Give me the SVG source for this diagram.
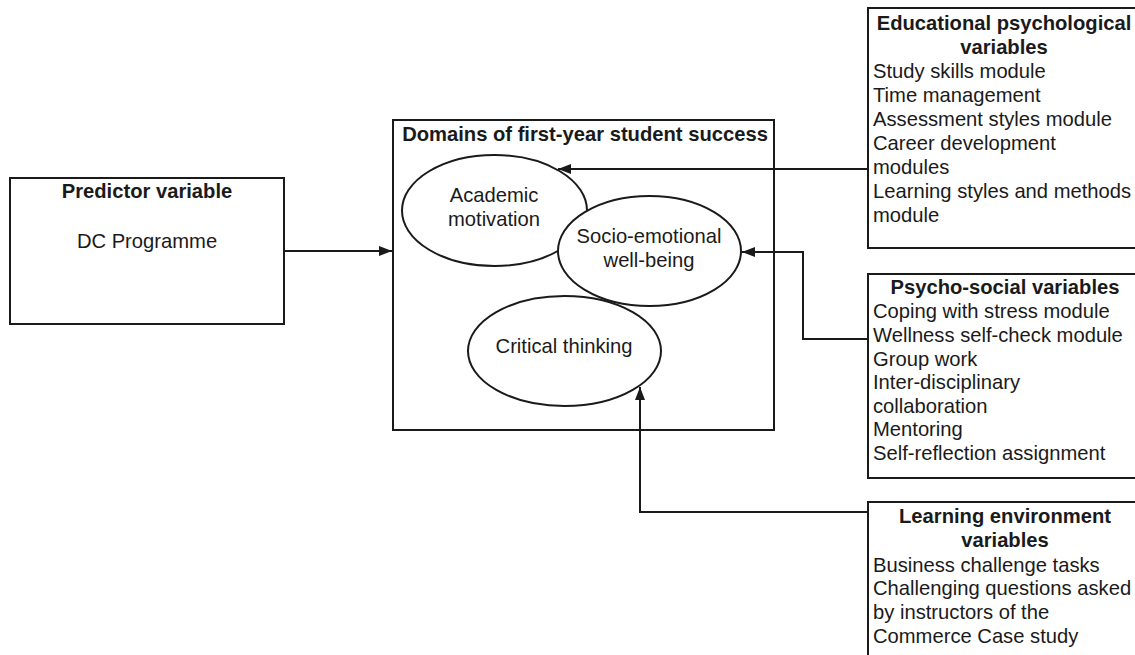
<svg xmlns="http://www.w3.org/2000/svg" width="1135" height="655" viewBox="0 0 1135 655">
  <style>
    .box { fill: #ffffff; stroke: #1a1a1a; stroke-width: 2; }
    .oval { fill: #ffffff; stroke: #1a1a1a; stroke-width: 2; }
    .link { fill: none; stroke: #1a1a1a; stroke-width: 2; }
    text { font-family: "Liberation Sans", Arial, sans-serif; font-size: 20.2px; fill: #1a1a1a; }
    .title { font-weight: bold; text-anchor: middle; }
    .mid { text-anchor: middle; }
  </style>
  <defs>
    <marker id="arrow" markerUnits="userSpaceOnUse" markerWidth="14" markerHeight="12" refX="13" refY="5" orient="auto">
      <path d="M0,0 L13,5 L0,10 z" fill="#1a1a1a"/>
    </marker>
  </defs>
  <rect width="1135" height="655" fill="#ffffff"/>

  <!-- predictor -->
  <g id="predictor">
    <rect class="box" x="10" y="178" width="274" height="146"/>
    <text class="title" x="147" y="198">Predictor variable</text>
    <text class="mid" x="147" y="248">DC Programme</text>
  </g>

  <!-- outcome domains container -->
  <g id="domains">
    <rect class="box" x="393" y="120" width="381" height="310"/>
    <text class="title" x="585" y="141">Domains of first-year student success</text>
  </g>
  <g id="academic-motivation">
    <ellipse class="oval" cx="494.5" cy="210.5" rx="92.5" ry="55.5"/>
    <text class="mid" x="494" y="202">Academic</text>
    <text class="mid" x="494" y="226">motivation</text>
  </g>
  <g id="socio-emotional">
    <ellipse class="oval" cx="649.5" cy="251" rx="91.5" ry="55"/>
    <text class="mid" x="649" y="243">Socio-emotional</text>
    <text class="mid" x="649" y="267">well-being</text>
  </g>
  <g id="critical-thinking">
    <ellipse class="oval" cx="564.5" cy="351" rx="96.5" ry="55"/>
    <text class="mid" x="564" y="353">Critical thinking</text>
  </g>

  <!-- influencing variable groups -->
  <g id="educational-psychological">
    <rect class="box" x="868" y="8" width="272" height="240"/>
    <text class="title" x="1004" y="30">Educational psychological</text>
    <text class="title" x="1004" y="54">variables</text>
    <text x="873" y="78">Study skills module</text>
    <text x="873" y="102">Time management</text>
    <text x="873" y="126">Assessment styles module</text>
    <text x="873" y="150">Career development</text>
    <text x="873" y="174">modules</text>
    <text x="873" y="198">Learning styles and methods</text>
    <text x="873" y="222">module</text>
  </g>
  <g id="psycho-social">
    <rect class="box" x="868" y="274" width="272" height="204"/>
    <text class="title" x="1005" y="294">Psycho-social variables</text>
    <text x="873" y="318">Coping with stress module</text>
    <text x="873" y="342">Wellness self-check module</text>
    <text x="873" y="366">Group work</text>
    <text x="873" y="389">Inter-disciplinary</text>
    <text x="873" y="413">collaboration</text>
    <text x="873" y="436">Mentoring</text>
    <text x="873" y="460">Self-reflection assignment</text>
  </g>
  <g id="learning-environment">
    <rect class="box" x="868" y="502" width="272" height="200"/>
    <text class="title" x="1005" y="523">Learning environment</text>
    <text class="title" x="1005" y="547">variables</text>
    <text x="873" y="572">Business challenge tasks</text>
    <text x="873" y="595">Challenging questions asked</text>
    <text x="873" y="619">by instructors of the</text>
    <text x="873" y="643">Commerce Case study</text>
  </g>

  <!-- connectors -->
  <g id="connectors">
    <path class="link" d="M284,251 L392,251" marker-end="url(#arrow)"/>
    <path class="link" d="M868,169 L558,169" marker-end="url(#arrow)"/>
    <path class="link" d="M868,339 L803,339 L803,252 L742,252" marker-end="url(#arrow)"/>
    <path class="link" d="M868,512 L640,512 L640,387" marker-end="url(#arrow)"/>
  </g>
</svg>
